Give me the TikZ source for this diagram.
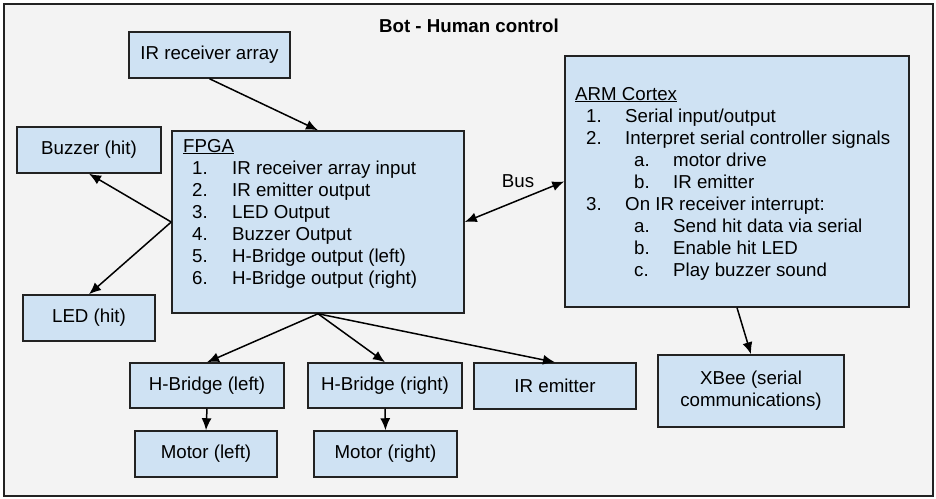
\documentclass[tikz,border=0pt]{standalone}
\usepackage{fontspec}
\setmainfont{Liberation Sans}
\usetikzlibrary{arrows.meta}
\definecolor{boxfill}{HTML}{CFE2F3}
\definecolor{bg}{HTML}{F3F3F3}
\definecolor{edge}{HTML}{222222}
\begin{document}
\begin{tikzpicture}[x=1pt,y=-1pt,
  every node/.style={font=\fontsize{18.7}{22}\selectfont},
  box/.style={draw=edge, fill=boxfill, line width=1.5pt, inner sep=0pt, align=center},
  arr/.style={draw=black, line width=1.5pt, -{Latex[length=12pt,width=10pt]}},
  dblarr/.style={draw=black, line width=1.5pt, {Latex[length=12pt,width=10pt]}-{Latex[length=12pt,width=10pt]}},
  txt/.style={anchor=base west, inner sep=0pt}]
\useasboundingbox (0,0) rectangle (936,498);
\node[draw=edge, fill=bg, line width=1.5pt, minimum width=929pt, minimum height=492pt, inner sep=0pt] (frame) at (468.5,250) {};
\node[font=\fontsize{18.7}{22}\selectfont\bfseries] (title) at (469,26) {Bot - Human control};

\node[box, minimum width=161pt, minimum height=46pt] (irra) at (209.5,55) {IR receiver array};
\node[box, minimum width=144pt, minimum height=46pt] (buzz) at (89,150) {Buzzer (hit)};
\node[box, minimum width=292pt, minimum height=182pt] (fpga) at (318,222) {};
\node[box, minimum width=132pt, minimum height=46pt] (led) at (89,318) {LED (hit)};
\node[box, minimum width=154pt, minimum height=45pt] (hbl) at (207,385.5) {H-Bridge (left)};
\node[box, minimum width=154pt, minimum height=45pt] (hbr) at (385,385.5) {H-Bridge (right)};
\node[box, minimum width=142pt, minimum height=46pt] (ml) at (206,454) {Motor (left)};
\node[box, minimum width=143pt, minimum height=46pt] (mr) at (385.5,454) {Motor (right)};
\node[box, minimum width=162pt, minimum height=46pt] (ire) at (555,386) {IR emitter};
\node[box, minimum width=186pt, minimum height=72pt] (xbee) at (751,391) {XBee (serial\\communications)};
\node[box, minimum width=344pt, minimum height=251pt] (arm) at (737,181.5) {};

% FPGA text
\node[txt] (ft) at (183,152) {\underline{FPGA}};
\node[txt] (fn1) at (192,174) {1.};
\node[txt] (fi1) at (232,174) {IR receiver array input};
\node[txt] (fn2) at (192,196) {2.};
\node[txt] (fi2) at (232,196) {IR emitter output};
\node[txt] (fn3) at (192,218) {3.};
\node[txt] (fi3) at (232,218) {LED Output};
\node[txt] (fn4) at (192,240) {4.};
\node[txt] (fi4) at (232,240) {Buzzer Output};
\node[txt] (fn5) at (192,262) {5.};
\node[txt] (fi5) at (232,262) {H-Bridge output (left)};
\node[txt] (fn6) at (192,284) {6.};
\node[txt] (fi6) at (232,284) {H-Bridge output (right)};

% ARM text
\node[txt] (at) at (575,100) {\underline{ARM Cortex}};
\node[txt] (an1) at (586,122) {1.};
\node[txt] (ai1) at (625,122) {Serial input/output};
\node[txt] (an2) at (586,144) {2.};
\node[txt] (ai2) at (625,144) {Interpret serial controller signals};
\node[txt] (an2a) at (634,166) {a.};
\node[txt] (ai2a) at (673,166) {motor drive};
\node[txt] (an2b) at (634,188) {b.};
\node[txt] (ai2b) at (673,188) {IR emitter};
\node[txt] (an3) at (586,210) {3.};
\node[txt] (ai3) at (625,210) {On IR receiver interrupt:};
\node[txt] (an3a) at (634,232) {a.};
\node[txt] (ai3a) at (673,232) {Send hit data via serial};
\node[txt] (an3b) at (634,254) {b.};
\node[txt] (ai3b) at (673,254) {Enable hit LED};
\node[txt] (an3c) at (634,276) {c.};
\node[txt] (ai3c) at (673,276) {Play buzzer sound};

\node (bus) at (518,181) {Bus};

\draw[arr] (irra.south) -- (fpga.north);
\draw[arr] (fpga.west) -- (buzz.south);
\draw[arr] (fpga.west) -- (led.north);
\draw[arr] (fpga.south) -- (hbl.north);
\draw[arr] (fpga.south) -- (hbr.north);
\draw[arr] (fpga.south) -- (ire.north);
\draw[arr] (hbl.south) -- (ml.north);
\draw[arr] (hbr.south) -- (mr.north);
\draw[arr] (arm.south) -- (xbee.north);
\draw[dblarr] (fpga.east) -- (arm.west);
\end{tikzpicture}
\end{document}
